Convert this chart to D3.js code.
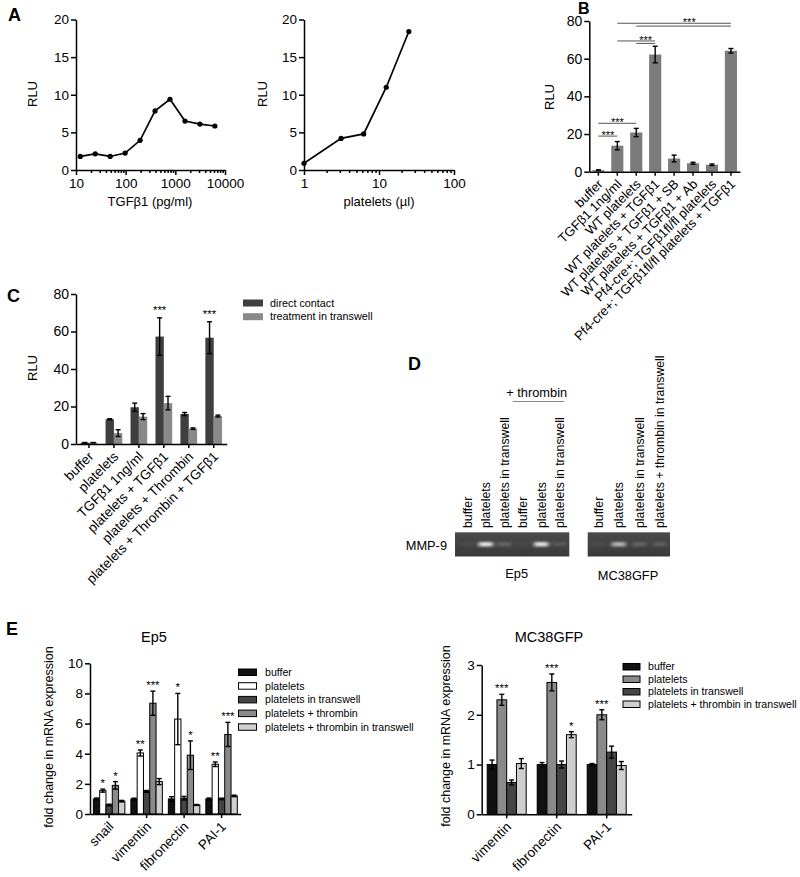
<!DOCTYPE html>
<html><head><meta charset="utf-8">
<script src="https://cdn.jsdelivr.net/npm/d3@7"></script>
<style>
body{margin:0;background:#fff}
svg{display:block;font-family:"Liberation Sans",Arial,Helvetica,sans-serif}
</style></head><body>
<svg id="fig" width="800" height="877"></svg>
<script>
// ---------- DATA ----------
// Panel A
const A1_dose = [12.2, 24.4, 48.8, 97.7, 195.3, 390.6, 781.3, 1562.5, 3125, 6250];
const A1_rlu  = [1.8, 2.15, 1.8, 2.25, 3.95, 7.85, 9.4, 6.5, 6.1, 5.85];
const A2_vol  = [1, 3.125, 6.25, 12.5, 25];
const A2_rlu  = [0.9, 4.2, 4.8, 11.0, 18.4];
const A_yTicks = [0, 5, 10, 15, 20];
const A1_xTicks = [10, 100, 1000, 10000];
const A2_xTicks = [1, 10, 100];

// Panel B
const B_cats = ["buffer", "TGFβ1 1ng/ml", "WT platelets", "WT platelets + TGFβ1",
  "WT platelets + TGFβ1 + SB", "WT platelets + TGFβ1 + Ab",
  "Pf4-cre+; TGFβ1fl/fl platelets", "Pf4-cre+; TGFβ1fl/fl platelets + TGFβ1"];
const B_vals = [0.8, 13.8, 20.8, 62.2, 7.0, 4.5, 3.7, 64.2];
const B_err  = [0.2, 2.2, 2.2, 4.4, 1.8, 0.5, 0.4, 1.2];
const B_yTicks = [0, 20, 40, 60, 80];
const B_sigLines = [[0, 1, 18.9], [0, 2, 25.7], [1, 3, 69.4], [2, 3, 68.1], [1, 7, 78.8], [2, 7, 77.3]];
const B_sigMarks = [[0.5, 18.9], [1.0, 25.7], [2.5, 69.4], [4.8, 78.8]];

// Panel C
const C_cats = ["buffer", "platelets", "TGFβ1 1ng/ml", "platelets + TGFβ1",
  "platelets + Thrombin", "platelets + Thrombin + TGFβ1"];
const C_series = ["direct contact", "treatment in transwell"];
const C_direct    = [0.7, 13.2, 19.6, 57.3, 16.0, 56.7];
const C_directErr = [0.1, 0.3, 2.2, 10.0, 0.8, 8.5];
const C_trans     = [0.7, 5.8, 14.6, 21.8, 8.2, 14.9];
const C_transErr  = [0.1, 1.8, 1.6, 3.6, 0.4, 0.5];
const C_stars     = ["", "", "", "***", "", "***"];
const C_yTicks = [0, 20, 40, 60, 80];

// Panel D
const D_ep5Lanes = ["buffer", "platelets", "platelets in transwell", "buffer", "platelets", "platelets in transwell"];
const D_ep5Band  = [0.04, 0.85, 0.18, 0.03, 0.85, 0.12];
const D_mcLanes  = ["buffer", "platelets", "platelets in transwell", "platelets + thrombin in transwell"];
const D_mcBand   = [0.05, 0.6, 0.18, 0.14];

// Panel E (Ep5)
const E1_genes  = ["snail", "vimentin", "fibronectin", "PAI-1"];
const E1_series = ["buffer", "platelets", "platelets in transwell", "platelets + thrombin", "platelets + thrombin in transwell"];
const E1_buffer    = [1.0, 1.0, 1.0, 1.0];
const E1_bufferErr = [0.06, 0.05, 0.15, 0.06];
const E1_plt       = [1.55, 4.05, 6.3, 3.3];
const E1_pltErr    = [0.1, 0.2, 1.7, 0.15];
const E1_tw        = [0.6, 1.5, 1.05, 1.0];
const E1_twErr     = [0.05, 0.06, 0.12, 0.05];
const E1_thr       = [1.9, 7.35, 3.9, 5.28];
const E1_thrErr    = [0.25, 0.8, 0.95, 0.8];
const E1_thrTw     = [0.85, 2.15, 0.6, 1.2];
const E1_thrTwErr  = [0.05, 0.2, 0.03, 0.05];
const E1_pltStars  = ["*", "**", "*", "**"];
const E1_thrStars  = ["*", "***", "*", "***"];
const E1_yTicks = [0, 2, 4, 6, 8, 10];

// Panel E (MC38GFP)
const E2_genes  = ["vimentin", "fibronectin", "PAI-1"];
const E2_series = ["buffer", "platelets", "platelets in transwell", "platelets + thrombin in transwell"];
const E2_buffer    = [1.0, 1.0, 1.0];
const E2_bufferErr = [0.09, 0.04, 0.02];
const E2_plt       = [2.3, 2.65, 2.0];
const E2_pltErr    = [0.11, 0.17, 0.1];
const E2_tw        = [0.64, 1.0, 1.25];
const E2_twErr     = [0.05, 0.07, 0.12];
const E2_thrTw     = [1.02, 1.6, 0.98];
const E2_thrTwErr  = [0.1, 0.06, 0.08];
const E2_pltStars  = ["***", "***", "***"];
const E2_thrTwStars = ["", "*", ""];
const E2_yTicks = [0, 1, 2, 3];

// ---------- HELPERS ----------
const svg = d3.select("#fig");
const TICK_FS = 13.5;

function styleAxis(g, fs) {
  g.attr("font-family", null).attr("font-size", null);
  g.select(".domain").attr("stroke", "#000").attr("stroke-width", 1.5);
  g.selectAll(".tick line").attr("stroke", "#000").attr("stroke-width", 1.5);
  g.selectAll(".tick text").attr("font-size", fs || TICK_FS).attr("fill", "#000");
}
function yAxis(y, ticks, x0, fs) {
  const g = svg.append("g").attr("transform", `translate(${x0},0)`)
    .call(d3.axisLeft(y).tickValues(ticks).tickFormat(d3.format("~g")).tickSize(5).tickSizeOuter(0).tickPadding(2));
  styleAxis(g, fs);
  return g;
}
function bandAxis(x, y0, fs) {
  const g = svg.append("g").attr("transform", `translate(0,${y0})`)
    .call(d3.axisBottom(x).tickSize(4).tickSizeOuter(0));
  styleAxis(g, fs);
  g.selectAll(".tick text").attr("x", 0).attr("y", 0).attr("dy", "0.35em")
    .attr("text-anchor", "end").attr("transform", "translate(2,10) rotate(-45)");
  return g;
}
function logAxis(x, y0, majors) {
  const [d0, d1] = x.domain();
  const vals = [];
  for (let p = Math.round(Math.log10(d0)); p < Math.round(Math.log10(d1)); p++) {
    for (let k = 1; k < 10; k++) vals.push(k * Math.pow(10, p));
  }
  vals.push(d1);
  const isMajor = d => majors.some(m => Math.abs(m - d) < 1e-9);
  const g = svg.append("g").attr("transform", `translate(0,${y0})`)
    .call(d3.axisBottom(x).tickValues(vals).tickFormat(d => isMajor(d) ? d3.format("d")(d) : "")
      .tickSize(5).tickSizeOuter(0).tickPadding(3));
  styleAxis(g);
  g.selectAll(".tick line").attr("y2", d => isMajor(d) ? 5 : 3);
  return g;
}
function rotLabel(text, x, y, fs) {
  svg.append("text").attr("transform", `translate(${x},${y}) rotate(-90)`)
    .attr("text-anchor", "middle").attr("font-size", fs || 13).text(text);
}
function panelLetter(t, x, y, fs) {
  svg.append("text").attr("x", x).attr("y", y).attr("font-size", fs || 18)
    .attr("font-weight", "bold").text(t);
}
function errBar(g, cx, y, v, e, cap) {
  g.append("line").attr("x1", cx).attr("x2", cx).attr("y1", y(v - e)).attr("y2", y(v + e))
    .attr("stroke", "#000").attr("stroke-width", 1.4);
  [v + e, v - e].forEach(t => g.append("line").attr("x1", cx - cap).attr("x2", cx + cap)
    .attr("y1", y(t)).attr("y2", y(t)).attr("stroke", "#000").attr("stroke-width", 1.4));
}

// ---------- PANEL A ----------
panelLetter("A", 8, 21);
const xA1 = d3.scaleLog().domain([10, 10000]).range([76, 225]);
const yA = d3.scaleLinear().domain([0, 20]).range([170, 19.5]);
const xA2 = d3.scaleLog().domain([1, 100]).range([304, 454]);

function linePanel(x, y, xs, ys) {
  const pts = xs.map((d, i) => [x(d), y(ys[i])]);
  svg.append("path").attr("d", d3.line()(pts)).attr("fill", "none")
    .attr("stroke", "#000").attr("stroke-width", 1.7);
  svg.append("g").selectAll("circle").data(pts).join("circle")
    .attr("cx", d => d[0]).attr("cy", d => d[1]).attr("r", 2.6).attr("fill", "#000");
}
linePanel(xA1, yA, A1_dose, A1_rlu);
linePanel(xA2, yA, A2_vol, A2_rlu);
yAxis(yA, A_yTicks, 76);
yAxis(yA, A_yTicks, 304);
logAxis(xA1, 170, A1_xTicks);
logAxis(xA2, 170, A2_xTicks);
rotLabel("RLU", 37, 94);
rotLabel("RLU", 267, 94);
svg.append("text").attr("x", 150).attr("y", 206).attr("text-anchor", "middle").attr("font-size", 13).text("TGFβ1 (pg/ml)");
svg.append("text").attr("x", 379).attr("y", 206).attr("text-anchor", "middle").attr("font-size", 13).text("platelets (µl)");

// ---------- PANEL B ----------
panelLetter("B", 578, 13.5, 16);
const xB = d3.scaleBand().domain(B_cats).range([589.3, 740]).paddingInner(0.36).paddingOuter(0.16);
const yB = d3.scaleLinear().domain([0, 80]).range([171.7, 21]);
const gB = svg.append("g");
gB.selectAll("rect").data(B_cats).join("rect")
  .attr("x", d => xB(d)).attr("width", xB.bandwidth())
  .attr("y", (d, i) => yB(B_vals[i])).attr("height", (d, i) => yB(0) - yB(B_vals[i]))
  .attr("fill", "#7b7b7b");
B_cats.forEach((c, i) => errBar(gB, xB(c) + xB.bandwidth() / 2, yB, B_vals[i], B_err[i], 2.5));
const bCenter = i => xB(B_cats[0]) + xB.bandwidth() / 2 + i * xB.step();
B_sigLines.forEach(([a, b, v]) => gB.append("line").attr("x1", bCenter(a)).attr("x2", bCenter(b))
  .attr("y1", yB(v)).attr("y2", yB(v)).attr("stroke", "#555").attr("stroke-width", 1));
B_sigMarks.forEach(([at, v]) => gB.append("text").attr("x", bCenter(at)).attr("y", yB(v) + 3)
  .attr("text-anchor", "middle").attr("font-size", 11).text("***"));
yAxis(yB, B_yTicks, 589.3, 14);
bandAxis(xB, 171.7, 13);
rotLabel("RLU", 554, 97);

// ---------- PANEL C ----------
panelLetter("C", 7, 302);
const xC = d3.scaleBand().domain(C_cats).range([76, 226.7]).paddingInner(0.33).paddingOuter(0.185);
const xCs = d3.scaleBand().domain(C_series).range([0, xC.bandwidth()]);
const yC = d3.scaleLinear().domain([0, 80]).range([444, 294]);
const C_colors = ["#3f3f3f", "#8a8a8a"];
const gC = svg.append("g");
const C_data = [[C_direct, C_directErr], [C_trans, C_transErr]];
C_series.forEach((s, si) => {
  const [vals, errs] = C_data[si];
  gC.append("g").selectAll("rect").data(C_cats).join("rect")
    .attr("x", d => xC(d) + xCs(s)).attr("width", xCs.bandwidth())
    .attr("y", (d, i) => yC(vals[i])).attr("height", (d, i) => yC(0) - yC(vals[i]))
    .attr("fill", C_colors[si]);
  C_cats.forEach((c, i) => errBar(gC, xC(c) + xCs(s) + xCs.bandwidth() / 2, yC, vals[i], errs[i], 2.5));
});
C_cats.forEach((c, i) => {
  if (C_stars[i]) gC.append("text").attr("x", xC(c) + xCs(C_series[0]) + xCs.bandwidth() / 2)
    .attr("y", yC(C_direct[i] + C_directErr[i]) - 4).attr("text-anchor", "middle")
    .attr("font-size", 11.5).text(C_stars[i]);
});
yAxis(yC, C_yTicks, 76, 14);
bandAxis(xC, 444, 13.5);
rotLabel("RLU", 37, 368);
C_series.forEach((s, i) => {
  svg.append("rect").attr("x", 243).attr("y", 299.5 + i * 13.7).attr("width", 20).attr("height", 7).attr("fill", C_colors[i]);
  svg.append("text").attr("x", 270).attr("y", 303 + i * 13.7).attr("dy", "0.35em").attr("font-size", 10.8).text(s);
});

// ---------- PANEL D ----------
panelLetter("D", 408, 370);
const defs = svg.append("defs");
defs.append("filter").attr("id", "blur").attr("x", "-50%").attr("y", "-100%").attr("width", "200%").attr("height", "300%")
  .append("feGaussianBlur").attr("stdDeviation", "2 1.2");
const gelG = defs.append("linearGradient").attr("id", "gel").attr("x1", 0).attr("y1", 0).attr("x2", 0).attr("y2", 1);
gelG.append("stop").attr("offset", "0").attr("stop-color", "#4a4a4a");
gelG.append("stop").attr("offset", "1").attr("stop-color", "#3a3a3a");
function gel(lanes, bands, x0, x1, laneRange) {
  const gy0 = 532.3, gy1 = 556.5;
  svg.append("rect").attr("x", x0).attr("y", gy0).attr("width", x1 - x0).attr("height", gy1 - gy0).attr("fill", "url(#gel)");
  const x = d3.scaleBand().domain(d3.range(lanes.length)).range(laneRange);
  lanes.forEach((l, i) => {
    const cx = x(i) + x.bandwidth() / 2;
    svg.append("rect").attr("x", cx - 7).attr("y", 542).attr("width", 14).attr("height", 4.5)
      .attr("fill", "#fff").attr("opacity", bands[i]).attr("filter", "url(#blur)");
    svg.append("text").attr("transform", `translate(${cx},528) rotate(-90)`).attr("dy", "0.35em")
      .attr("font-size", 12.3).text(l);
  });
  return x;
}
gel(D_ep5Lanes, D_ep5Band, 455, 569.3, [458, 569]);
gel(D_mcLanes, D_mcBand, 587.7, 670, [588, 670]);
svg.append("text").attr("x", 447).attr("y", 549.5).attr("text-anchor", "end").attr("font-size", 12.8).text("MMP-9");
svg.append("text").attr("x", 516.7).attr("y", 578).attr("text-anchor", "middle").attr("font-size", 12.8).text("Ep5");
svg.append("text").attr("x", 628).attr("y", 580).attr("text-anchor", "middle").attr("font-size", 12.8).text("MC38GFP");
svg.append("text").attr("x", 536.7).attr("y", 397).attr("text-anchor", "middle").attr("font-size", 12.8).text("+ thrombin");
svg.append("line").attr("x1", 512.7).attr("x2", 564.3).attr("y1", 401.5).attr("y2", 401.5).attr("stroke", "#888").attr("stroke-width", 1);

// ---------- PANEL E ----------
panelLetter("E", 6, 635);
function groupedBars(genes, series, vals, errs, colors, x, y, stars) {
  const xs = d3.scaleBand().domain(series).range([0, x.bandwidth()]);
  const g = svg.append("g");
  series.forEach((s, si) => {
    g.append("g").selectAll("rect").data(genes).join("rect")
      .attr("x", d => x(d) + xs(s)).attr("width", xs.bandwidth())
      .attr("y", (d, i) => y(vals[si][i])).attr("height", (d, i) => y(0) - y(vals[si][i]))
      .attr("fill", colors[si]).attr("stroke", "#000").attr("stroke-width", 1);
    genes.forEach((gname, i) => {
      const cx = x(gname) + xs(s) + xs.bandwidth() / 2;
      errBar(g, cx, y, vals[si][i], errs[si][i], 2.5);
      const st = stars[si] ? stars[si][i] : "";
      if (st) g.append("text").attr("x", cx).attr("y", y(vals[si][i] + errs[si][i]) - 2)
        .attr("text-anchor", "middle").attr("font-size", 11.5).text(st);
    });
  });
}
// Ep5
const xE1 = d3.scaleBand().domain(E1_genes).range([90, 240.7]).paddingInner(0.16).paddingOuter(0.09);
const yE1 = d3.scaleLinear().domain([0, 10]).range([814, 663.3]);
const E1_colors = ["#111", "#fff", "#454545", "#8a8a8a", "#cfcfcf"];
groupedBars(E1_genes, E1_series,
  [E1_buffer, E1_plt, E1_tw, E1_thr, E1_thrTw],
  [E1_bufferErr, E1_pltErr, E1_twErr, E1_thrErr, E1_thrTwErr],
  E1_colors, xE1, yE1, [null, E1_pltStars, null, E1_thrStars, null]);
yAxis(yE1, E1_yTicks, 90, 13.5);
bandAxis(xE1, 814, 13.5);
rotLabel("fold change in mRNA expression", 53, 737, 12.5);
svg.append("text").attr("x", 154).attr("y", 642).attr("text-anchor", "middle").attr("font-size", 14.5).text("Ep5");
E1_series.forEach((s, i) => {
  svg.append("rect").attr("x", 238.5).attr("y", 669 + i * 13.7).attr("width", 18).attr("height", 6.5)
    .attr("fill", E1_colors[i]).attr("stroke", "#000").attr("stroke-width", 1);
  svg.append("text").attr("x", 265).attr("y", 672.3 + i * 13.7).attr("dy", "0.35em").attr("font-size", 10.6).text(s);
});
// MC38GFP
const xE2 = d3.scaleBand().domain(E2_genes).range([481.7, 631.7]).paddingInner(0.22).paddingOuter(0.11);
const yE2 = d3.scaleLinear().domain([0, 3]).range([814.3, 665]);
const E2_colors = ["#111", "#8a8a8a", "#454545", "#cfcfcf"];
groupedBars(E2_genes, E2_series,
  [E2_buffer, E2_plt, E2_tw, E2_thrTw],
  [E2_bufferErr, E2_pltErr, E2_twErr, E2_thrTwErr],
  E2_colors, xE2, yE2, [null, E2_pltStars, null, E2_thrTwStars]);
yAxis(yE2, E2_yTicks, 481.7, 13.5);
bandAxis(xE2, 814.3, 13.5);
rotLabel("fold change in mRNA expression", 450, 736, 12.5);
svg.append("text").attr("x", 549).attr("y", 642).attr("text-anchor", "middle").attr("font-size", 14.5).text("MC38GFP");
E2_series.forEach((s, i) => {
  svg.append("rect").attr("x", 623).attr("y", 663.5 + i * 12.5).attr("width", 17).attr("height", 6.5)
    .attr("fill", E2_colors[i]).attr("stroke", "#000").attr("stroke-width", 1);
  svg.append("text").attr("x", 648).attr("y", 666.7 + i * 12.5).attr("dy", "0.35em").attr("font-size", 10.6).text(s);
});
</script>
</body></html>
